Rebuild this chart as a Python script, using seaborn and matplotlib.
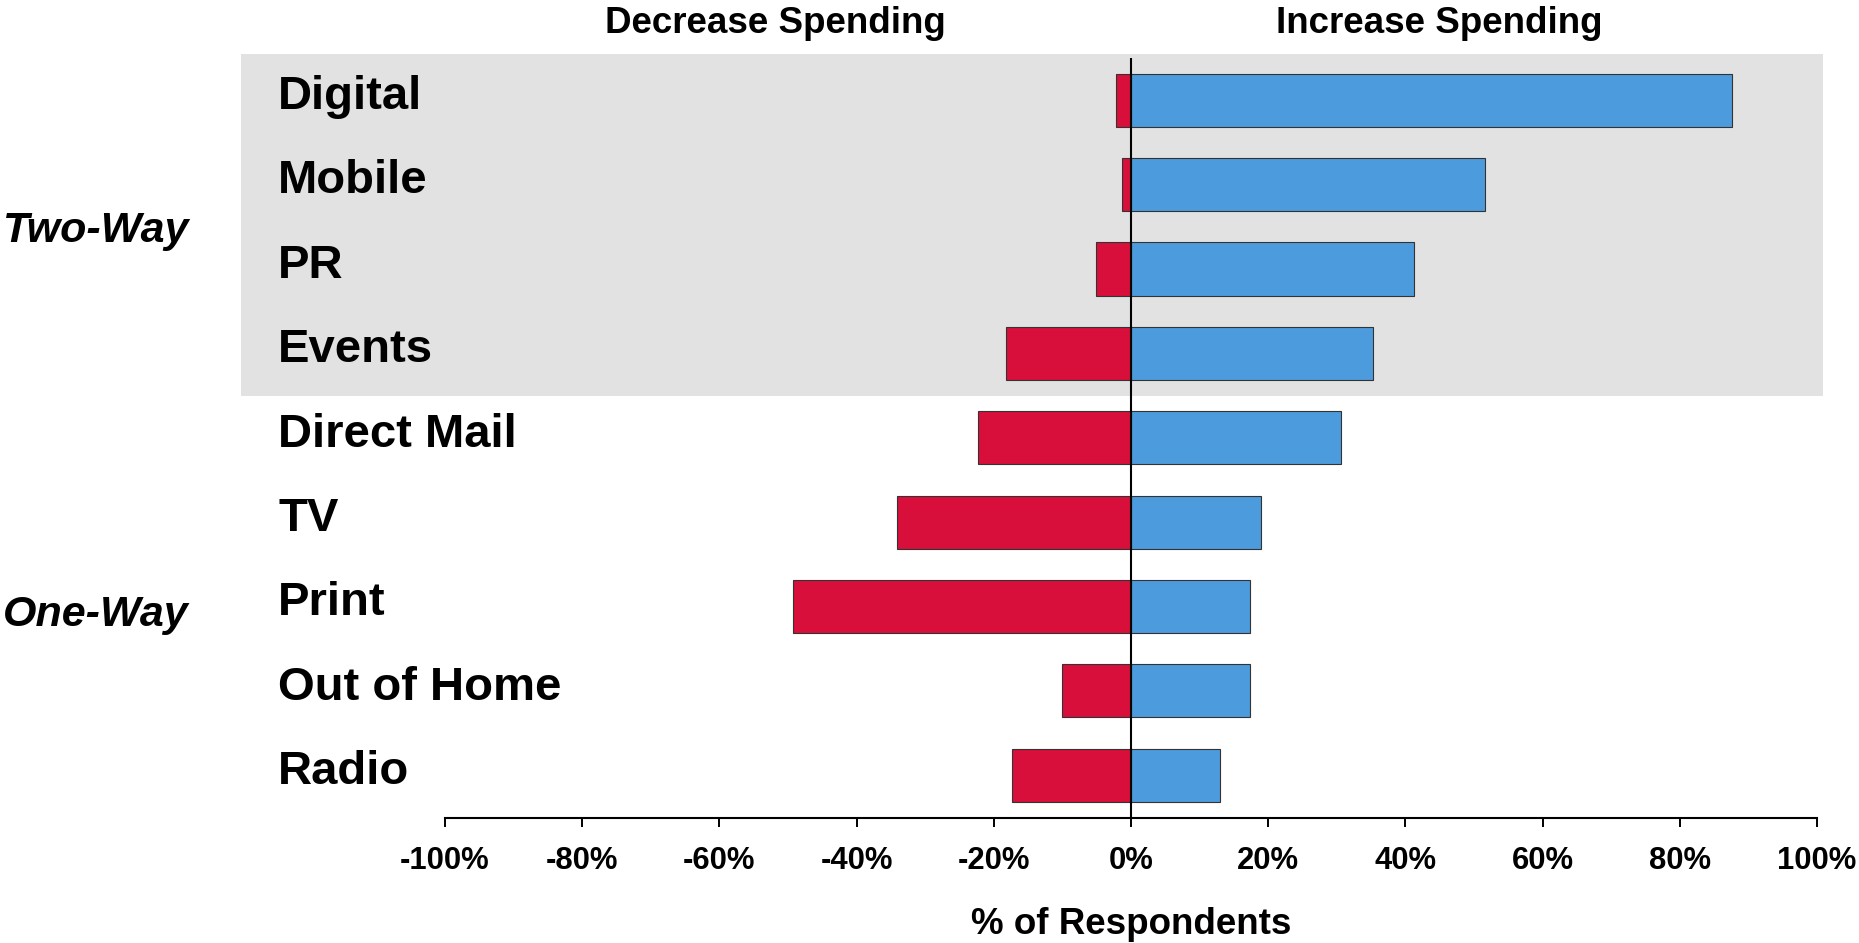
import matplotlib
matplotlib.use("Agg")
import matplotlib.pyplot as plt
import matplotlib.transforms as mtransforms
import seaborn as sns
import pandas as pd

categories = ["Digital", "Mobile", "PR", "Events", "Direct Mail", "TV", "Print", "Out of Home", "Radio"]
decrease = [-2.2, -1.3, -5.1, -18.2, -22.3, -34.1, -49.2, -10.1, -17.3]
increase = [87.6, 51.6, 41.2, 35.3, 30.6, 19.0, 17.3, 17.3, 13.0]
xticks = [-100, -80, -60, -40, -20, 0, 20, 40, 60, 80, 100]
xtick_labels = [f"{t}%" for t in xticks]
groups = ["Two-Way", "One-Way"]
group_centers = [1.5, 6.05]
headers = ["Decrease Spending", "Increase Spending"]
header_x = [-51.9, 45.0]

RED = "#D80E3B"
BLUE = "#4C9BDC"
GRAY = "#E2E2E2"

sns.set_theme(style="white")
plt.rcParams["font.family"] = ["Liberation Sans", "DejaVu Sans"]
plt.rcParams["font.weight"] = "bold"
plt.rcParams["text.color"] = "black"
plt.rcParams["axes.labelcolor"] = "black"
plt.rcParams["xtick.color"] = "black"
plt.rcParams["ytick.color"] = "black"

df = pd.DataFrame({"category": categories, "decrease": decrease, "increase": increase})

fig = plt.figure(figsize=(18.59, 9.43), dpi=100)
ax = fig.add_axes([445 / 1859, 1 - 817.5 / 943, 1372 / 1859, (817.5 - 58) / 943])

sns.barplot(data=df, x="decrease", y="category", orient="h", color=RED, saturation=1, width=0.63,
            edgecolor="#333333", linewidth=0.8, ax=ax, zorder=3)
sns.barplot(data=df, x="increase", y="category", orient="h", color=BLUE, saturation=1, width=0.63,
            edgecolor="#333333", linewidth=0.8, ax=ax, zorder=3)

ax.set_xlim(-100, 100)
ax.set_ylim(len(categories) - 0.5, -0.5)

# shaded "two-way" band
ax.axhspan(-0.55, 3.5, xmin=-0.1487, xmax=1.0044, color=GRAY, zorder=0, clip_on=False, lw=0)
ax.axvline(0, color="black", lw=1.5, zorder=4)

for s in ["top", "right", "left"]:
    ax.spines[s].set_visible(False)
ax.spines["bottom"].set_color("black")
ax.spines["bottom"].set_linewidth(1.5)
ax.patch.set_alpha(0)

ax.set_xticks(xticks)
ax.set_xticklabels(xtick_labels, fontsize=22.3, fontweight="bold", color="black")
ax.tick_params(axis="x", direction="out", length=6.5, width=1.4, color="black", pad=14, bottom=True)
ax.set_yticks([])
ax.set_ylabel("")
ax.set_xlabel("% of Respondents", fontsize=26.5, fontweight="bold", labelpad=22, color="black")

for i, c in enumerate(categories):
    ax.text(-124.3, i + 0.105, c, ha="left", va="baseline", fontsize=34, fontweight="bold",
            color="black", clip_on=False)

for g, yc in zip(groups, group_centers):
    ax.text(-164.4, yc + 0.175, g, ha="left", va="baseline", fontsize=31, fontweight="bold",
            fontstyle="italic", color="black", clip_on=False)

trans = mtransforms.blended_transform_factory(ax.transData, fig.transFigure)
for h, hx in zip(headers, header_x):
    ax.text(hx, 1 - 33 / 943, h, ha="center", va="baseline", fontsize=26.5, fontweight="bold",
            color="black", transform=trans, clip_on=False)

fig.savefig("out.png", dpi=100)
